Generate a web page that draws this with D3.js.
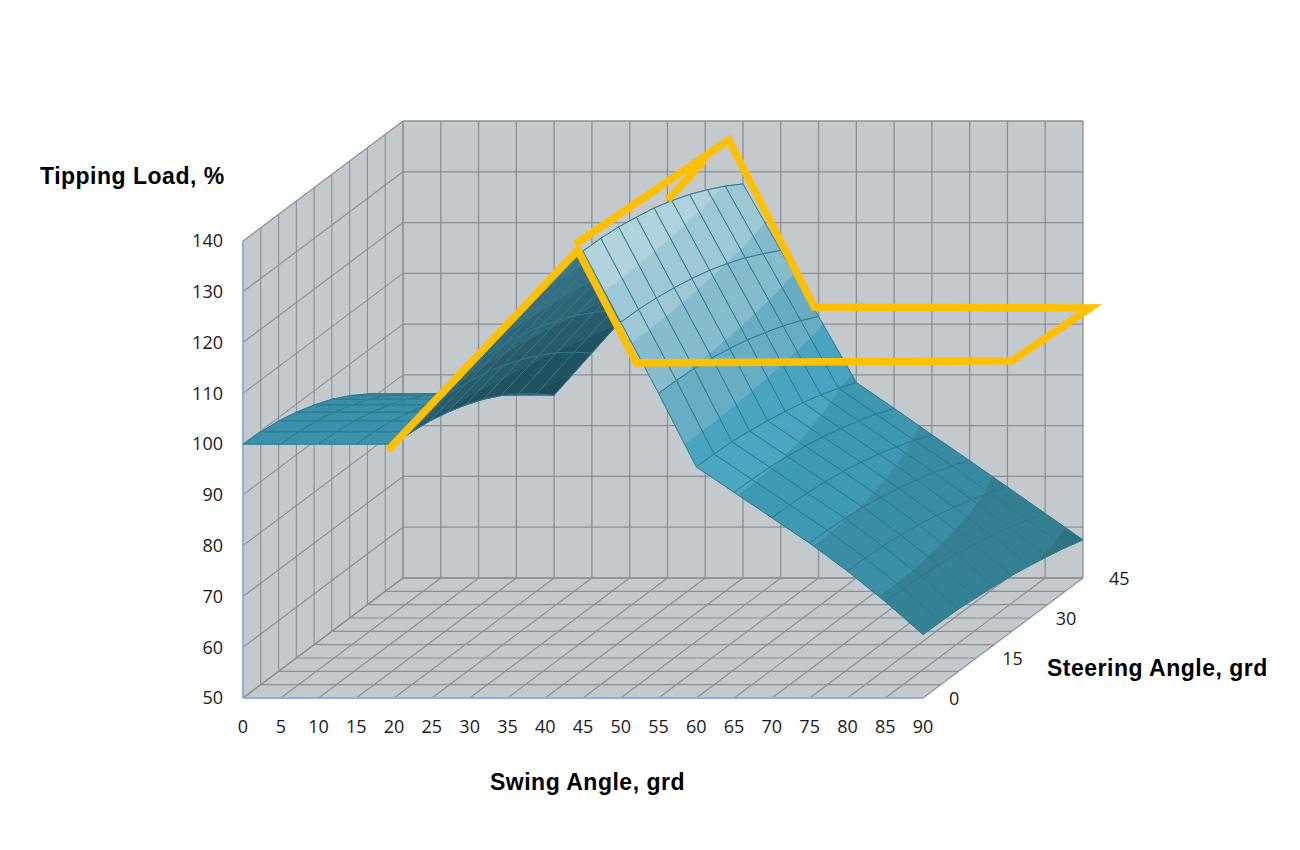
<!DOCTYPE html>
<html>
<head>
<meta charset="utf-8">
<script src="https://cdn.jsdelivr.net/npm/d3@7"></script>
<style>
  body { margin: 0; background: #fff; }
  text { font-family: "Liberation Sans", Arial, sans-serif; }
  .tick { font-family: "Open Sans", sans-serif; font-size: 18px; fill: #1a1a1a; }
  .ttl { font-weight: bold; fill: #000; font-size: 23px; letter-spacing: 0.5px; }
</style>
</head>
<body>
<div id="container"></div>
<script>
// categories / series
const swingAngles = [0, 5, 10, 15, 20, 25, 30, 35, 40, 45, 50, 55, 60, 65, 70, 75, 80, 85, 90];
const steeringAngles = [0, 5, 10, 15, 20, 25, 30, 35, 40, 45];
const valueTicks = [50, 60, 70, 80, 90, 100, 110, 120, 130, 140];
const steeringTicks = [0, 15, 30, 45];

// tipping load, % (one array per steering angle, along swing angle)
const load_s0  = [100, 100, 100, 100, 100, 107.6, 115.2, 122.8, 130.4, 138, 124, 110, 95.5, 90.5, 85.5, 80.5, 75, 69, 62.5];
const load_s5  = [99.8, 99.8, 99.8, 99.8, 99.8, 107.4, 115.0, 122.7, 130.3, 137.9, 123.9, 109.9, 95.4, 90.4, 85.4, 80.4, 74.9, 68.9, 62.4];
const load_s10 = [99.3, 99.3, 99.3, 99.3, 99.3, 106.9, 114.6, 122.2, 129.9, 137.5, 123.5, 109.6, 95.2, 90.2, 85.1, 80.1, 74.6, 68.7, 62.3];
const load_s15 = [98.4, 98.4, 98.4, 98.4, 98.4, 106.1, 113.8, 121.5, 129.2, 136.8, 122.9, 109.1, 94.7, 89.7, 84.7, 79.7, 74.2, 68.3, 61.9];
const load_s20 = [97.2, 97.2, 97.2, 97.2, 97.2, 105.0, 112.7, 120.5, 128.2, 136.0, 122.1, 108.3, 94.1, 89.1, 84.1, 79.0, 73.6, 67.8, 61.5];
const load_s25 = [95.7, 95.7, 95.7, 95.7, 95.7, 103.5, 111.3, 119.2, 127.0, 134.8, 121.1, 107.4, 93.3, 88.3, 83.3, 78.2, 72.8, 67.1, 61.0];
const load_s30 = [93.8, 93.8, 93.8, 93.8, 93.8, 101.7, 109.6, 117.6, 125.5, 133.4, 119.8, 106.2, 92.4, 87.3, 82.3, 77.2, 71.8, 66.2, 60.3];
const load_s35 = [91.5, 91.5, 91.5, 91.5, 91.5, 99.6, 107.6, 115.7, 123.7, 131.7, 118.3, 104.9, 91.3, 86.2, 81.1, 76.0, 70.7, 65.2, 59.5];
const load_s40 = [88.9, 88.9, 88.9, 88.9, 88.9, 97.1, 105.2, 113.5, 121.6, 129.8, 116.5, 103.3, 90.0, 84.9, 79.7, 74.7, 69.4, 64.0, 58.6];
const load_s45 = [86, 86, 86, 86, 86, 94.3, 102.6, 111.0, 119.3, 127.6, 114.5, 101.5, 88.5, 83.4, 78.2, 73.1, 67.9, 62.7, 57.5];
const loadSeries = [load_s0, load_s5, load_s10, load_s15, load_s20, load_s25, load_s30, load_s35, load_s40, load_s45];

// yellow hand-drawn markup, in swing / load coordinates on the front plane
const markupSwing = [44.0, 64.3, 75.6, 112.1, 101.8, 52.1, 44.3, 19.2];
const markupLoad  = [139.4, 159.9, 127.0, 126.8, 116.4, 116.0, 138.2, 98.8];
const markupTabSwing = [56.2, 61.1];
const markupTabLoad  = [148.1, 155.9];

const width = 1300, height = 850;
const x = d3.scaleLinear().domain([0, 90]).range([243, 923]);
const y = d3.scaleLinear().domain([50, 140]).range([698, 241]);
const depth = d3.scaleLinear().domain([0, 45]).range([0, 1]);
const DX = 160, DY = -120;
const proj = (sw, st, v) => { const t = depth(st); return [x(sw) + t * DX, y(v) + t * DY]; };

const svg = d3.select("#container").append("svg")
    .attr("width", width).attr("height", height)
    .attr("viewBox", [0, 0, width, height]);

const wallFill = "#c4c9ce", gridCol = "#8d8f92";
const poly = pts => "M" + pts.map(p => p.join(",")).join("L") + "Z";
const line = (g, a, b, col, w) => g.append("line")
    .attr("x1", a[0]).attr("y1", a[1]).attr("x2", b[0]).attr("y2", b[1])
    .attr("stroke", col).attr("stroke-width", w);

// walls and floor
const walls = svg.append("g");
walls.append("path").attr("fill", wallFill)
    .attr("d", poly([proj(0, 0, 50), proj(0, 45, 50), proj(0, 45, 140), proj(0, 0, 140)]));
walls.append("path").attr("fill", wallFill)
    .attr("d", poly([proj(0, 45, 50), proj(90, 45, 50), proj(90, 45, 140), proj(0, 45, 140)]));
walls.append("path").attr("fill", wallFill)
    .attr("d", poly([proj(0, 0, 50), proj(90, 0, 50), proj(90, 45, 50), proj(0, 45, 50)]));

const grid = svg.append("g");
swingAngles.forEach(sw => {
  line(grid, proj(sw, 45, 50), proj(sw, 45, 140), gridCol, 1.3);
  line(grid, proj(sw, 0, 50), proj(sw, 45, 50), gridCol, 1.1);
});
valueTicks.forEach(v => {
  line(grid, proj(0, 45, v), proj(90, 45, v), gridCol, 1.3);
  line(grid, proj(0, 0, v), proj(0, 45, v), gridCol, 1.1);
});
steeringAngles.forEach(st => {
  line(grid, proj(0, st, 50), proj(0, st, 140), gridCol, 1.1);
  line(grid, proj(0, st, 50), proj(90, st, 50), gridCol, 1.1);
});
line(grid, proj(0, 0, 50), proj(0, 0, 140), "#8cb0dc", 2);
line(grid, proj(0, 0, 50), proj(90, 0, 50), "#8cb0dc", 2);

// surface
const bandColors = ["#307585", "#358195", "#3a8ea6", "#3f9bb5", "#4ea7c2", "#6db1c7", "#8cbfd0", "#a5ccd9", "#b7d7e1"];
const light = (() => { const l = [0.7, 0, 0.71]; const n = Math.hypot(...l); return l.map(c => c / n); })();
const pxPerUnit = (y(50) - y(60)) / 10;
const stepX = x(5) - x(0);

function clip(pts, f) {
  const out = [];
  for (let k = 0; k < pts.length; k++) {
    const a = pts[k], b = pts[(k + 1) % pts.length];
    const fa = f(a), fb = f(b);
    if (fa >= 0) out.push(a);
    if ((fa >= 0) !== (fb >= 0)) {
      const t = fa / (fa - fb);
      out.push([a[0] + t * (b[0] - a[0]), a[1] + t * (b[1] - a[1]), a[2] + t * (b[2] - a[2])]);
    }
  }
  return out;
}

const surf = svg.append("g");
for (let j = steeringAngles.length - 2; j >= 0; j--) {
  for (let i = 0; i < swingAngles.length - 1; i++) {
    const s0 = steeringAngles[j], s1 = steeringAngles[j + 1];
    const w0 = swingAngles[i], w1 = swingAngles[i + 1];
    const v00 = loadSeries[j][i], v10 = loadSeries[j][i + 1];
    const v01 = loadSeries[j + 1][i], v11 = loadSeries[j + 1][i + 1];
    const quad = [[w0, s0, v00], [w1, s0, v10], [w1, s1, v11], [w0, s1, v01]];

    const dz1 = ((v10 + v11) - (v00 + v01)) / 2 * pxPerUnit;
    const dz2 = ((v01 + v11) - (v00 + v10)) / 2 * pxPerUnit;
    const dy = 22;
    let n = [-dy * dz1, -stepX * dz2, stepX * dy];
    const nl = Math.hypot(...n); n = n.map(c => c / nl);
    const dot = Math.max(0, n[0] * light[0] + n[1] * light[1] + n[2] * light[2]);
    const f = 0.48 + 0.52 * dot;

    bandColors.forEach((col, b) => {
      const lo = valueTicks[b], hi = valueTicks[b + 1];
      let piece = clip(quad, p => p[2] - lo);
      if (piece.length) piece = clip(piece, p => hi - p[2]);
      if (piece.length < 3) return;
      const c = d3.hsl(col); c.l *= f;
      surf.append("path")
        .attr("d", poly(piece.map(p => proj(p[0], p[1], p[2]))))
        .attr("fill", c.formatHex())
        .attr("stroke", c.formatHex())
        .attr("stroke-width", 0.6);
    });
    surf.append("path")
      .attr("d", poly(quad.map(p => proj(p[0], p[1], p[2]))))
      .attr("fill", "none")
      .attr("stroke", "#2c7a8f")
      .attr("stroke-width", 1);
  }
}

// yellow markup
const markLine = d3.line().x(d => x(d[0])).y(d => y(d[1]));
svg.append("path")
    .attr("d", markLine(markupSwing.map((s, k) => [s, markupLoad[k]])))
    .attr("fill", "none").attr("stroke", "#ffc000").attr("stroke-width", 7.5)
    .attr("stroke-linejoin", "miter");
svg.append("path")
    .attr("d", markLine(markupTabSwing.map((s, k) => [s, markupTabLoad[k]])))
    .attr("fill", "none").attr("stroke", "#ffc000").attr("stroke-width", 7.5);

// tick labels
const labels = svg.append("g");
valueTicks.forEach(v => {
  labels.append("text").attr("class", "tick")
    .attr("x", 223).attr("y", y(v)).attr("dy", "0.35em")
    .attr("text-anchor", "end").text(v);
});
swingAngles.forEach(sw => {
  labels.append("text").attr("class", "tick")
    .attr("x", x(sw)).attr("y", 727).attr("dy", "0.35em")
    .attr("text-anchor", "middle").text(sw);
});
steeringTicks.forEach(st => {
  const p = proj(90, st, 50);
  labels.append("text").attr("class", "tick")
    .attr("x", p[0] + 26).attr("y", p[1] + 1).attr("dy", "0.35em")
    .attr("text-anchor", "start").text(st);
});

// titles
svg.append("text").attr("class", "ttl").attr("x", 40).attr("y", 184).text("Tipping Load, %");
svg.append("text").attr("class", "ttl").attr("x", 490).attr("y", 790).text("Swing Angle, grd");
svg.append("text").attr("class", "ttl").attr("x", 1047).attr("y", 676).text("Steering Angle, grd");
</script>
</body>
</html>
